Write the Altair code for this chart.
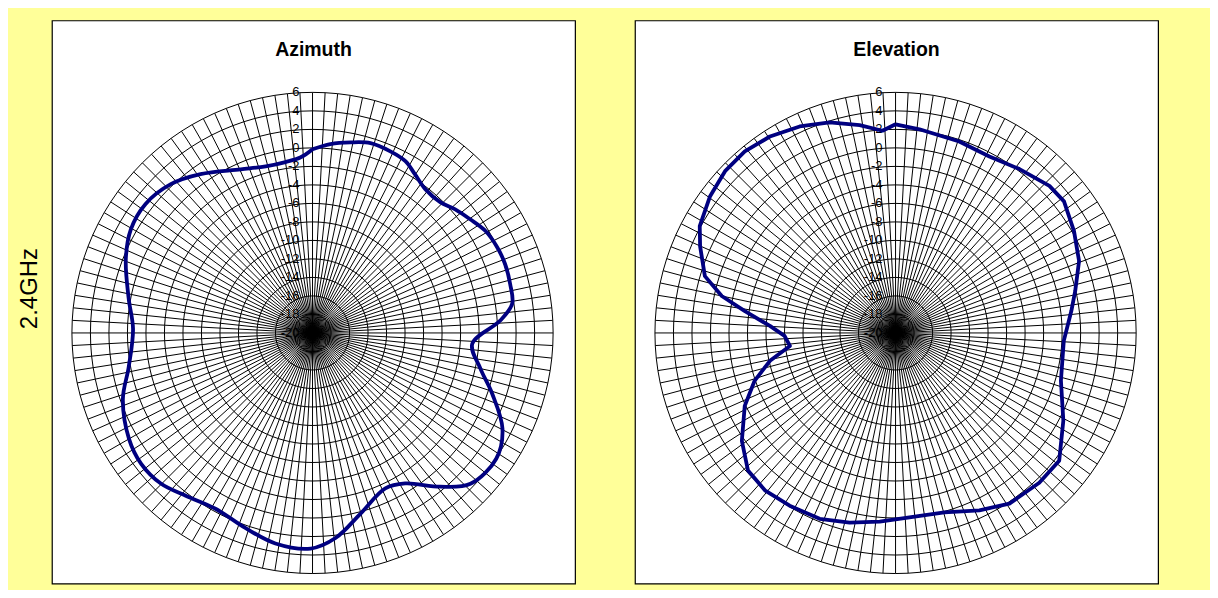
import altair as alt
import pandas as pd

# ---- data (angle clockwise from top, deg ; gain dB) ----
az_angle = [0, 5.4, 11.3, 17, 23.2, 28.4, 32.9, 38.1, 44.3, 49.1,
            54.2, 59.5, 65.1, 70.3, 76.1, 81.7, 86.3, 93.9, 102, 108.7,
            116.8, 124.4, 133.7, 140.3, 148.4, 154.9, 165.1, 173.6, 180.5, 190,
            198.9, 208.9, 217.9, 225.2, 232.7, 240, 250.8, 259.5, 271.3, 280.5,
            291.6, 299.7, 307.7, 316.4, 324.8, 336.3, 344.3, 351, 356]
az_gain = [-0.15, 0.5, 1.0, 1.45, 1.35, 1.1, 0.4, -0.25, -0.25, 0.4,
           1.0, 1.7, 2.0, 2.1, 2.0, 1.8, 0.3, -2.7, -1.45, 0.5,
           3.0, 4.06, 3.6, 1.6, -0.9, -1.45, 0.2, 2.3, 3.3, 3.1,
           2.3, 1.7, 2.3, 3.1, 3.3, 2.9, 1.7, 0.2, -0.6, 0.2,
           1.7, 2.6, 2.8, 2.2, 1.0, -0.7, -1.3, -1.3, -1.0]

el_angle = [0, 6.7, 18.4, 28, 37.1, 46.3, 52, 60.3, 68.6, 76.9,
            82.9, 92.7, 106.1, 117.6, 128, 136.2, 146.3, 154.7, 164.8, 175.7,
            184.8, 193.6, 202.2, 211.5, 219.7, 227, 234.9, 244.2, 251.2, 257.5,
            263, 268.5, 273.2, 278.3, 282, 286.6, 293.9, 298.6, 306.4, 313.5,
            320.3, 327.4, 335.1, 342.6, 350.2, 356.3]
el_gain = [2.55, 2.16, 1.8, 1.6, 2.2, 3.0, 3.1, 2.2, 1.3, -0.07,
           -0.86, -1.8, -1.4, 0.46, 2.44, 2.44, 2.17, 1.2, 0.1, 0.0,
           0.46, 1.1, 1.7, 1.9, 2.1, 1.8, 0.3, -1.9, -3.9, -6.1,
           -8.5, -8.0, -6.4, -3.5, -0.8, 1.5, 3.1, 4.1, 4.9, 5.4,
           5.5, 5.2, 4.6, 3.85, 2.8, 1.9]

ring_levels = [-18, -16, -14, -12, -10, -8, -6, -4, -2, 0, 2, 4, 6]
tick_values = [6, 4, 2, 0, -2, -4, -6, -8, -10, -12, -14, -16, -18, -20]
tick_labels = ["6", "4", "2", "0", "-2", "-4", "-6", "-8", "-10", "-12", "-14", "-16", "-18", "-20"]

panel_titles = ["Azimuth", "Elevation"]
row_label = "2.4GHz"

R_MIN = -20
R_MAX = 6
SPOKE_STEP = 3
FONT = "Liberation Sans"

XS = alt.Scale(domain=[-28.16, 28.37], nice=False, zero=False)
YS = alt.Scale(domain=[-27.08, 33.77], nice=False, zero=False)

PW, PH = 524, 564


def panel(title, angles, gains, with_label, interp):
    if with_label:
        yaxis = alt.Axis(title=row_label, labels=False, ticks=False, domain=False, grid=False,
                         titleFontSize=24, titleFont=FONT, titleFontWeight="normal",
                         titleColor="black", titleX=-22, titleY=268, titleBaseline="middle",
                         titleAlign="center", titleAngle=270)
    else:
        yaxis = None

    def X(f):
        return alt.X(f, scale=XS, axis=None)

    def Y(f):
        return alt.Y(f, scale=YS, axis=yaxis)

    spokes = alt.Chart(alt.sequence(0, 360, SPOKE_STEP, as_="a")).transform_calculate(
        x0="0", y0="0",
        x2=f"{R_MAX - R_MIN}*sin(datum.a*PI/180)",
        y2=f"{R_MAX - R_MIN}*cos(datum.a*PI/180)",
    ).mark_rule(color="black", strokeWidth=1).encode(
        x=X("x0:Q"), y=Y("y0:Q"), x2="x2:Q", y2="y2:Q"
    )

    rings = alt.Chart(pd.DataFrame({"ring": ring_levels})).transform_calculate(
        a=f"sequence(0, 361, {SPOKE_STEP})"
    ).transform_flatten(["a"]).transform_calculate(
        x=f"(datum.ring-({R_MIN}))*sin(datum.a*PI/180)",
        y=f"(datum.ring-({R_MIN}))*cos(datum.a*PI/180)",
    ).mark_line(color="black", strokeWidth=1).encode(
        x=X("x:Q"), y=Y("y:Q"), detail="ring:N", order="a:Q"
    )

    labels = alt.Chart(pd.DataFrame({"v": tick_values, "lab": tick_labels})).transform_calculate(
        x="0", y=f"datum.v-({R_MIN})"
    ).mark_text(align="right", baseline="middle", dx=-13, fontSize=13, font=FONT,
                color="black").encode(x=X("x:Q"), y=Y("y:Q"), text="lab:N")

    df = pd.DataFrame({"angle": angles + [angles[0] + 360], "gain": gains + [gains[0]]})
    line = alt.Chart(df).transform_calculate(
        x=f"(datum.gain-({R_MIN}))*sin(datum.angle*PI/180)",
        y=f"(datum.gain-({R_MIN}))*cos(datum.angle*PI/180)",
    ).mark_line(color="#000080", strokeWidth=3.8, strokeJoin="round",
                interpolate=interp).encode(
        x=X("x:Q"), y=Y("y:Q"), order="angle:Q"
    )

    ttl = alt.Chart(pd.DataFrame({"t": [title]})).mark_text(
        fontSize=19.5, fontWeight="bold", font=FONT, color="black", baseline="middle"
    ).encode(x=alt.value(262), y=alt.value(30), text="t:N")

    return alt.layer(spokes, rings, labels, line, ttl).properties(width=PW, height=PH)


left = panel(panel_titles[0], az_angle, az_gain, True, "catmull-rom")
right = panel(panel_titles[1], el_angle, el_gain, False, "linear")

chart = alt.hconcat(left, right, spacing=58).properties(
    background="#FFFF99",
    padding={"left": 9, "top": 11, "right": 51, "bottom": 5},
).configure_view(fill="white", stroke="black", strokeWidth=1.2)

chart.save("out.html", embed_options={"renderer": "svg", "actions": False})
